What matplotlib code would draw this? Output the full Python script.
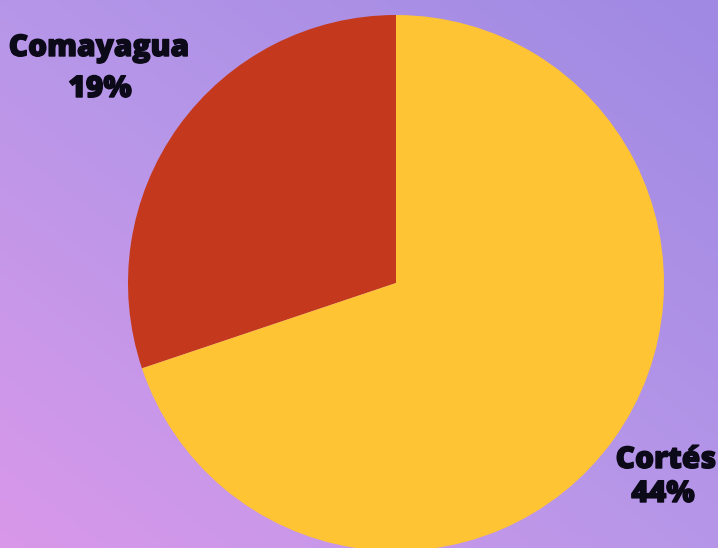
import numpy as np
import matplotlib
matplotlib.use("Agg")
import matplotlib.pyplot as plt
import matplotlib.patheffects as pe
from matplotlib.colors import LinearSegmentedColormap

# Department shares (%)
departments = ["Comayagua", "Cortés"]
shares      = [19, 44]
colors      = ["#c4391d", "#fec433"]

W, H = 718, 548
fig = plt.figure(figsize=(W / 100, H / 100), dpi=100)
ax = fig.add_axes([0, 0, 1, 1])

# ── Diagonal purple background ────────────────────────────────────────────────
yy, xx = np.mgrid[0:1:200j, 0:1:200j]
grad = (xx + yy) / 2.0          # 0 at bottom-left, 1 at top-right
bg_cmap = LinearSegmentedColormap.from_list(
    "bg", ["#d998ea", "#b696e8", "#9f89e3"])
ax.imshow(grad, cmap=bg_cmap, origin="lower", extent=(0, W, 0, H),
          aspect="auto", zorder=0, interpolation="bilinear")

# ── Pie ───────────────────────────────────────────────────────────────────────
ax.pie(shares, colors=colors, startangle=90, counterclock=True,
       center=(396, H - 283), radius=268, frame=True,
       wedgeprops=dict(linewidth=0, zorder=2))

ax.set_xlim(0, W)
ax.set_ylim(0, H)
ax.set_aspect("equal")
ax.axis("off")

# ── Labels: name line and percent line, baselines in pixels from the top ─────
label_pos = {
    "Comayagua": ((99, 56), (100, 97)),
    "Cortés":    ((666, 468), (663, 502)),
}
txt_color = "#0c0a18"
txt_kw = dict(ha="center", va="baseline", fontsize=21.5, fontweight="heavy",
              family=["Open Sans", "DejaVu Sans"], color=txt_color, zorder=3,
              path_effects=[pe.withStroke(linewidth=1.0, foreground=txt_color)])
for name, val in zip(departments, shares):
    (nx, ny), (px, py) = label_pos[name]
    ax.text(nx, H - ny, name, **txt_kw)
    ax.text(px, H - py, f"{val}%", **txt_kw)

fig.savefig("out.png", dpi=100)
